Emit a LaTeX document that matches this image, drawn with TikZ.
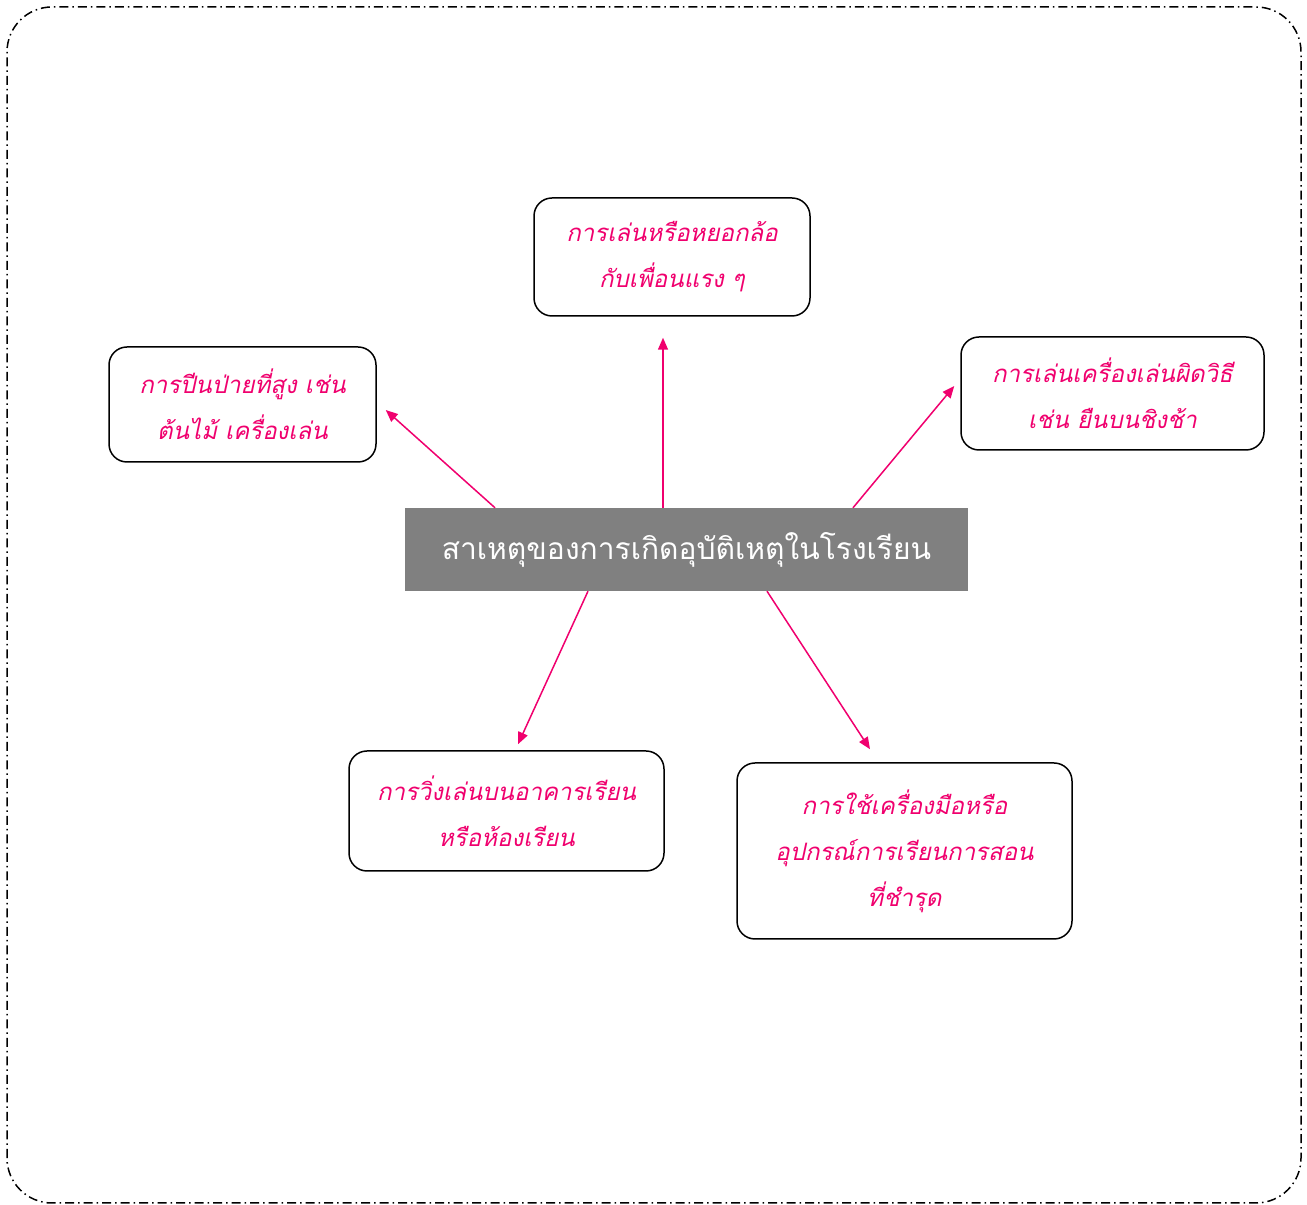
\documentclass[tikz,border=0pt]{standalone}
\usepackage{fontspec}
\newfontfamily\thaifont[Script=Thai]{Loma}
\usepackage{tikz}
\usetikzlibrary{arrows.meta,positioning,calc}
\definecolor{causepink}{RGB}{240,0,110}
\definecolor{causegray}{RGB}{128,128,128}
\tikzset{
  reasonbox/.style={draw, rounded corners=18pt, line width=1.5pt, fill=white,
    align=center, text=causepink,
    font=\thaifont\itshape\fontsize{24}{46}\selectfont},
  mainbox/.style={fill=causegray, text=white, align=center,
    minimum width=563pt, minimum height=83pt,
    font=\thaifont\fontsize{30}{36}\selectfont},
  arr/.style={-{Triangle[length=12pt,width=10pt]}, line width=1.5pt, draw=causepink, fill=causepink},
}

\begin{document}
\begin{tikzpicture}[x=1pt, y=1pt]
  \useasboundingbox (0,0) rectangle (1307,1205);
  % outer frame
  \draw[line width=1.5pt, rounded corners=45pt,
    dash pattern=on 9pt off 4pt on 1.5pt off 4pt] (7,2) rectangle (1301,1198);

  % centre
  \node[mainbox] (cause) at (686.5,655.5) {สาเหตุของการเกิดอุบัติเหตุในโรงเรียน};

  % reasons
  \node[reasonbox, minimum width=276pt, minimum height=118pt] (tease) at (672,948)
    {การเล่นหรือหยอกล้อ\\กับเพื่อนแรง ๆ};
  \node[reasonbox, minimum width=267pt, minimum height=115pt] (climb) at (242.5,800.5)
    {การปีนป่ายที่สูง เช่น\\ต้นไม้ เครื่องเล่น};
  \node[reasonbox, minimum width=303pt, minimum height=113pt] (swing) at (1112.5,811.5)
    {การเล่นเครื่องเล่นผิดวิธี\\เช่น ยืนบนชิงช้า};
  \node[reasonbox, minimum width=315pt, minimum height=120pt] (run) at (506.5,394)
    {การวิ่งเล่นบนอาคารเรียน\\หรือห้องเรียน};
  \node[reasonbox, minimum width=335pt, minimum height=176pt] (tools) at (904.5,354)
    {การใช้เครื่องมือหรือ\\อุปกรณ์การเรียนการสอน\\ที่ชำรุด};

  % arrows
  \draw[arr] ([xshift=-23.5pt]cause.north) -- ([xshift=-9pt,yshift=-21pt]tease.south);
  \draw[arr] ([xshift=-191.5pt]cause.north) -- ([xshift=9pt,yshift=-5.5pt]climb.east);
  \draw[arr] ([xshift=166.5pt]cause.north) -- ([xshift=-6pt,yshift=7.5pt]swing.west);
  \draw[arr] ([xshift=-98.5pt]cause.south) -- ([xshift=11.5pt,yshift=6pt]run.north);
  \draw[arr] ([xshift=80.5pt]cause.south) -- ([xshift=-34.5pt,yshift=13pt]tools.north);
\end{tikzpicture}
\end{document}
